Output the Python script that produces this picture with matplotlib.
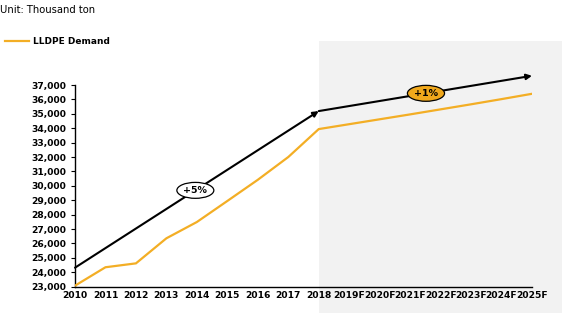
import matplotlib
matplotlib.use("Agg")
import matplotlib.pyplot as plt
from matplotlib.patches import Rectangle
from matplotlib.lines import Line2D
from matplotlib.transforms import blended_transform_factory
from matplotlib.ticker import FuncFormatter

years = ["2010", "2011", "2012", "2013", "2014", "2015", "2016", "2017", "2018",
         "2019F", "2020F", "2021F", "2022F", "2023F", "2024F", "2025F"]
demand = [23070, 24350, 24620, 26360, 27490, 28950, 30420, 32000, 33940,
          34280, 34620, 34960, 35310, 35660, 36020, 36390]
trend_x = [0, 8, 15]
trend_y = [24320, 35190, 37640]
trend_labels = ["+5%", "+1%"]
label_x = [3.95, 11.52]
series_name = "LLDPE Demand"
unit_text = "Unit: Thousand ton"

YELLOW = "#F3AE25"
plt.rcParams['font.family'] = ['DejaVu Sans']

fig = plt.figure(figsize=(5.79, 3.21), dpi=100)
ax = fig.add_axes([75/579, 34.3/321, 457/579, 201.7/321])
ax.patch.set_alpha(0)

# forecast shaded region
tr = blended_transform_factory(ax.transData, fig.transFigure)
fig.patches.append(Rectangle((8, 8/321), 8.0, (313-41)/321, transform=tr,
                             facecolor="#F2F2F2", edgecolor="none", zorder=-10))

x = list(range(len(years)))
ax.plot(x, demand, color=YELLOW, lw=1.6, solid_joinstyle='miter', zorder=3)

# trend arrows
for i in range(2):
    ax.annotate('', xy=(trend_x[i+1], trend_y[i+1]), xytext=(trend_x[i], trend_y[i]),
                arrowprops=dict(arrowstyle='-|>', lw=1.5, color='black',
                                mutation_scale=8, shrinkA=0, shrinkB=0),
                annotation_clip=False, zorder=4)

for i in range(2):
    x0, x1 = trend_x[i], trend_x[i+1]
    y0, y1 = trend_y[i], trend_y[i+1]
    lx = label_x[i]
    ly = y0 + (y1 - y0) * (lx - x0) / (x1 - x0)
    fc = 'white' if i == 0 else '#F0A81C'
    ax.text(lx, ly, trend_labels[i], ha='center', va='center', fontsize=6.8,
            fontweight='bold', zorder=6,
            bbox=dict(boxstyle='ellipse,pad=0.12', fc=fc, ec='black', lw=0.9))

ax.set_xlim(0, 15)
ax.set_ylim(23000, 37000)
ax.set_xticks(x)
ax.set_xticklabels(years)
ax.set_yticks(range(23000, 37001, 1000))
ax.yaxis.set_major_formatter(FuncFormatter(lambda v, p: f"{int(v):,}"))
for s in ['top', 'right']:
    ax.spines[s].set_visible(False)
for s in ['left', 'bottom']:
    ax.spines[s].set_linewidth(1.0)
ax.tick_params(axis='y', length=3, width=0.8, pad=3, labelsize=6.6)
ax.tick_params(axis='x', length=0, pad=3, labelsize=6.6)
for lab in ax.get_xticklabels() + ax.get_yticklabels():
    lab.set_fontweight('bold')

fig.text(0.0, 1 - 10/321, unit_text, ha='left', va='center', fontsize=7.2)

handle = Line2D([], [], color=YELLOW, lw=1.6)
fig.legend([handle], [series_name], loc='center left',
           bbox_to_anchor=(-0.005, 1 - 42/321), frameon=False,
           prop=dict(size=6.5, weight='bold'), handlelength=2.6, handletextpad=0.5)

fig.savefig("out.png", dpi=100)
